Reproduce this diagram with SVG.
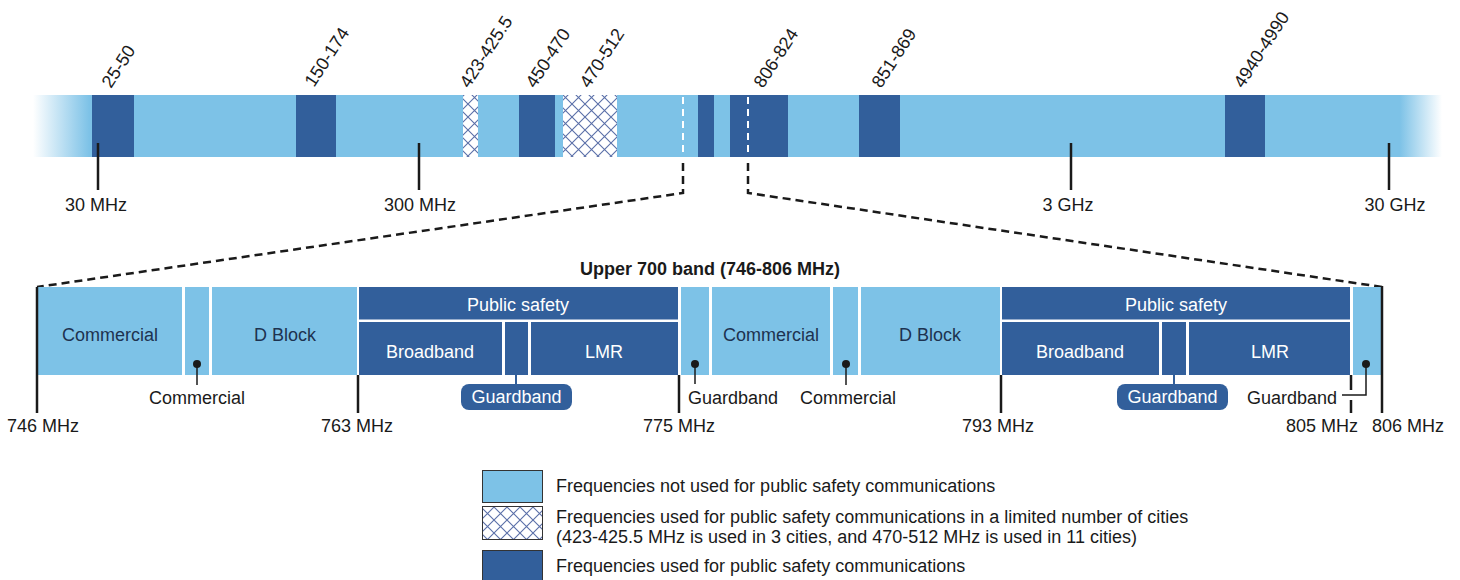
<svg xmlns="http://www.w3.org/2000/svg" width="1460" height="580" viewBox="0 0 1460 580">
  <defs>
    <linearGradient id="barFade" gradientUnits="userSpaceOnUse" x1="33" y1="0" x2="1442" y2="0">
      <stop offset="0" stop-color="#7dc2e7" stop-opacity="0"/>
      <stop offset="0.04" stop-color="#7dc2e7" stop-opacity="1"/>
      <stop offset="0.97" stop-color="#7dc2e7" stop-opacity="1"/>
      <stop offset="1" stop-color="#7dc2e7" stop-opacity="0"/>
    </linearGradient>
    <pattern id="hatch" patternUnits="userSpaceOnUse" width="13" height="13">
      <rect width="13" height="13" fill="#ffffff"/>
      <path d="M0,0 L13,13 M13,0 L0,13" stroke="#5a6fa8" stroke-width="1.1" fill="none"/>
    </pattern>
  </defs>
  <style>
    .light { fill: #7dc2e7; }
    .dark { fill: #325f9b; }
    .hatch { fill: url(#hatch); }
    .tick { stroke: #1a1a1a; stroke-width: 2.5; fill: none; }
    .thin { stroke: #1a1a1a; stroke-width: 1.5; fill: none; }
    .dot { fill: #1a1a1a; }
    .zoom { stroke: #1a1a1a; stroke-width: 2.5; stroke-dasharray: 8 5; fill: none; }
    .wdash { stroke: #ffffff; stroke-width: 2; stroke-dasharray: 7 5; fill: none; }
    text { font-family: "Liberation Sans", Arial, sans-serif; font-size: 18px; fill: #1a1a1a; }
    .mid { text-anchor: middle; }
    .inLight { fill: #1d3250; }
    .inDark { fill: #ffffff; }
    .title { font-weight: bold; }
    .legbox { stroke: #333333; stroke-width: 1; }
  </style>

  <!-- Full spectrum bar, 25 MHz .. 30 GHz -->
  <g id="spectrum">
    <rect x="33" y="95" width="1409" height="62" fill="url(#barFade)"/>
    <rect class="dark" x="92" y="95" width="42" height="62"/>
    <rect class="dark" x="296" y="95" width="40" height="62"/>
    <rect class="hatch" x="463" y="95" width="15" height="62"/>
    <rect class="dark" x="519" y="95" width="36" height="62"/>
    <rect class="hatch" x="563" y="95" width="54" height="62"/>
    <rect class="dark" x="698" y="95" width="16" height="62"/>
    <rect class="dark" x="730" y="95" width="58" height="62"/>
    <rect class="dark" x="859" y="95" width="41" height="62"/>
    <rect class="dark" x="1225" y="95" width="40" height="62"/>
    <line class="wdash" x1="683" y1="97" x2="683" y2="157"/>
    <line class="wdash" x1="748" y1="97" x2="748" y2="157"/>
  </g>

  <!-- Band labels above the spectrum bar -->
  <g id="band-labels">
    <text transform="translate(111,89) rotate(-57)">25-50</text>
    <text transform="translate(314,88) rotate(-57)">150-174</text>
    <text transform="translate(469,89) rotate(-57)">423-425.5</text>
    <text transform="translate(535,89) rotate(-57)">450-470</text>
    <text transform="translate(589,89) rotate(-57)">470-512</text>
    <text transform="translate(763,89) rotate(-57)">806-824</text>
    <text transform="translate(881,89) rotate(-57)">851-869</text>
    <text transform="translate(1243,89) rotate(-57)">4940-4990</text>
  </g>

  <!-- Scale ticks -->
  <g id="scale">
    <line class="tick" x1="98" y1="143" x2="98" y2="190"/>
    <text class="mid" x="96" y="211">30 MHz</text>
    <line class="tick" x1="419" y1="143" x2="419" y2="190"/>
    <text class="mid" x="420" y="211">300 MHz</text>
    <line class="tick" x1="1071" y1="143" x2="1071" y2="190"/>
    <text class="mid" x="1068" y="211">3 GHz</text>
    <line class="tick" x1="1389" y1="143" x2="1389" y2="190"/>
    <text class="mid" x="1395" y="211">30 GHz</text>
  </g>

  <!-- Zoom connectors -->
  <g id="connectors">
    <path class="zoom" d="M683,163 L683,193 L37,287"/>
    <path class="zoom" d="M748,163 L748,193 L1382,287"/>
  </g>

  <text id="title" class="title mid" x="710" y="275">Upper 700 band (746-806 MHz)</text>

  <!-- Upper 700 band detail -->
  <g id="band-746-763">
    <rect class="light" x="37" y="287" width="145" height="88"/>
    <text class="mid inLight" x="110" y="341">Commercial</text>
    <rect class="light" x="185" y="287" width="24" height="88"/>
    <rect class="light" x="212" y="287" width="145" height="88"/>
    <text class="mid inLight" x="285" y="341">D Block</text>
  </g>

  <g id="public-safety-1">
    <rect class="dark" x="359" y="287" width="319" height="32.5"/>
    <text class="mid inDark" x="518" y="311">Public safety</text>
    <rect class="dark" x="359" y="322" width="143" height="53"/>
    <text class="mid inDark" x="430" y="358">Broadband</text>
    <rect class="dark" x="505" y="322" width="23" height="53"/>
    <rect class="dark" x="531" y="322" width="147" height="53"/>
    <text class="mid inDark" x="604" y="358">LMR</text>
  </g>

  <g id="band-775-793">
    <rect class="light" x="681" y="287" width="28" height="88"/>
    <rect class="light" x="712" y="287" width="118" height="88"/>
    <text class="mid inLight" x="771" y="341">Commercial</text>
    <rect class="light" x="833" y="287" width="25" height="88"/>
    <rect class="light" x="861" y="287" width="139" height="88"/>
    <text class="mid inLight" x="930" y="341">D Block</text>
  </g>

  <g id="public-safety-2">
    <rect class="dark" x="1002" y="287" width="348" height="32.5"/>
    <text class="mid inDark" x="1176" y="311">Public safety</text>
    <rect class="dark" x="1002" y="322" width="157" height="53"/>
    <text class="mid inDark" x="1080" y="358">Broadband</text>
    <rect class="dark" x="1162" y="322" width="24" height="53"/>
    <rect class="dark" x="1189" y="322" width="161" height="53"/>
    <text class="mid inDark" x="1270" y="358">LMR</text>
  </g>

  <g id="band-805-806">
    <rect class="light" x="1353" y="287" width="30" height="88"/>
  </g>

  <!-- Callouts -->
  <g id="callout-commercial-1">
    <circle class="dot" cx="197" cy="364" r="4"/>
    <line class="thin" x1="197" y1="364" x2="197" y2="385"/>
    <text class="mid" x="197" y="404">Commercial</text>
  </g>
  <g id="callout-guardband-1">
    <line x1="516" y1="375" x2="516" y2="385" stroke="#325f9b" stroke-width="2"/>
    <rect class="dark" x="461" y="384" width="111" height="26" rx="8"/>
    <text class="mid inDark" x="516.5" y="403">Guardband</text>
  </g>
  <g id="callout-guardband-2">
    <circle class="dot" cx="695" cy="364" r="4"/>
    <line class="thin" x1="695" y1="364" x2="695" y2="384"/>
    <text x="688" y="404">Guardband</text>
  </g>
  <g id="callout-commercial-2">
    <circle class="dot" cx="846" cy="364" r="4"/>
    <line class="thin" x1="846" y1="364" x2="846" y2="385"/>
    <text class="mid" x="848" y="404">Commercial</text>
  </g>
  <g id="callout-guardband-3">
    <line x1="1174" y1="375" x2="1174" y2="385" stroke="#325f9b" stroke-width="2"/>
    <rect class="dark" x="1117" y="384" width="111" height="26" rx="8"/>
    <text class="mid inDark" x="1172.5" y="403">Guardband</text>
  </g>
  <g id="callout-guardband-4">
    <circle class="dot" cx="1366" cy="364" r="4"/>
    <path class="thin" d="M1366,364 L1366,395 L1342,395"/>
    <text x="1247" y="404">Guardband</text>
  </g>

  <!-- Frequency markers of the detail band -->
  <g id="markers">
    <line class="tick" x1="37" y1="287" x2="37" y2="413"/>
    <text class="mid" x="43" y="432">746 MHz</text>
    <line class="tick" x1="358" y1="375" x2="358" y2="413"/>
    <text class="mid" x="357" y="432">763 MHz</text>
    <line class="tick" x1="679" y1="375" x2="679" y2="413"/>
    <text class="mid" x="679" y="432">775 MHz</text>
    <line class="tick" x1="1001" y1="375" x2="1001" y2="413"/>
    <text class="mid" x="998" y="432">793 MHz</text>
    <line class="tick" x1="1351" y1="375" x2="1351" y2="390"/>
    <line class="tick" x1="1351" y1="400" x2="1351" y2="413"/>
    <text class="mid" x="1322" y="432">805 MHz</text>
    <line class="tick" x1="1382" y1="286" x2="1382" y2="413"/>
    <text class="mid" x="1408" y="432">806 MHz</text>
  </g>

  <!-- Legend -->
  <g id="legend">
    <rect class="light legbox" x="482.5" y="470.5" width="60" height="32"/>
    <text x="556" y="492">Frequencies not used for public safety communications</text>
    <rect class="hatch legbox" x="482.5" y="506.5" width="60" height="33"/>
    <text x="556" y="523">Frequencies used for public safety communications in a limited number of cities</text>
    <text x="556" y="543">(423-425.5 MHz is used in 3 cities, and 470-512 MHz is used in 11 cities)</text>
    <rect class="dark legbox" x="482.5" y="550.5" width="60" height="32"/>
    <text x="556" y="572">Frequencies used for public safety communications</text>
  </g>
</svg>
